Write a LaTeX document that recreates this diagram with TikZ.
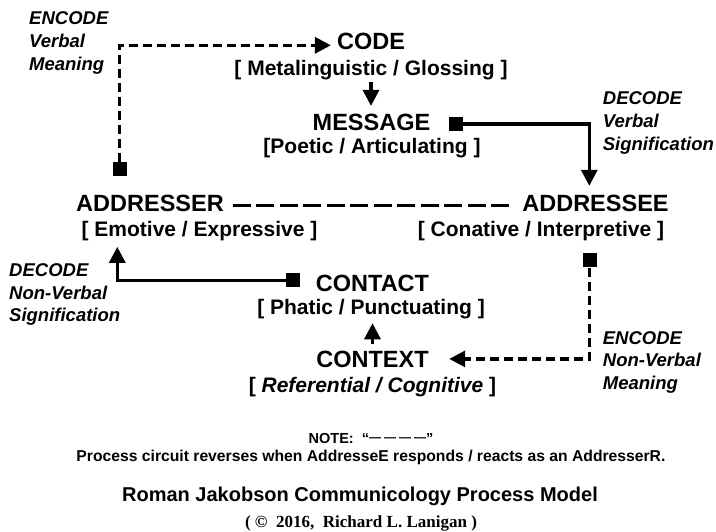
\documentclass[tikz,border=0pt]{standalone}
\usepackage{fontspec}
\setmainfont{Liberation Sans}
\newfontfamily\timesfont{Liberation Serif}
\usetikzlibrary{arrows.meta,calc}
\begin{document}
\begin{tikzpicture}[x=1pt,y=-1pt,
  mainlbl/.style={font=\fontsize{23.5}{28}\selectfont\bfseries, inner sep=0pt, anchor=base},
  sublbl/.style={font=\fontsize{21}{25}\selectfont\bfseries, inner sep=0pt, anchor=base},
  sidelbl/.style={font=\fontsize{18.5}{22.6}\selectfont\bfseries\itshape, inner sep=0pt, anchor=north west, align=left},
  sqbox/.style={fill=black, minimum size=14pt, inner sep=0pt},
  solidconn/.style={line width=3.2pt},
  dashconn/.style={line width=3.2pt, dash pattern=on 9pt off 5pt},
  tipped/.style={-{Triangle[length=16pt,width=16pt]}},
  notelbl/.style={inner sep=0pt, anchor=base}]
\useasboundingbox (0,0) rectangle (716,532);

% main nodes
\node[mainlbl] (code) at (371,50) {CODE};
\node[sublbl] (meta) at (371,75.5) {[ Metalinguistic / Glossing ]};
\node[mainlbl] (message) at (371.5,130.5) {MESSAGE};
\node[sublbl] (poetic) at (372,154) {[Poetic / Articulating ]};
\node[mainlbl] (addresser) at (150,212) {ADDRESSER};
\node[sublbl] (emotive) at (199.5,237) {[ Emotive / Expressive ]};
\node[mainlbl] (addressee) at (595.5,211.7) {ADDRESSEE};
\node[sublbl] (conative) at (541,237) {[ Conative / Interpretive ]};
\node[mainlbl] (contact) at (372.5,291) {CONTACT};
\node[sublbl] (phatic) at (371,315) {[ Phatic / Punctuating ]};
\node[mainlbl] (context) at (372.5,367) {CONTEXT};
\node[sublbl] (referential) at (372.5,392) {[ \textit{Referential / Cognitive} ]};

% side labels
\node[sidelbl] (encV) at (29,11.7) {ENCODE\\Verbal\\Meaning};
\node[sidelbl] (decV) at (602.7,91.7) {DECODE\\Verbal\\Signification};
\node[sidelbl] (decN) at (9,263.3) {DECODE\\Non-Verbal\\Signification};
\node[sidelbl] (encN) at (602.7,331) {ENCODE\\Non-Verbal\\Meaning};

% squares
\node[sqbox] (sqA) at (119.5,169) {};
\node[sqbox] (sqB) at (456,124) {};
\node[sqbox] (sqC) at (589.5,260.5) {};
\node[sqbox] (sqD) at (293,280.5) {};

% connectors
\draw[dashconn,tipped,shorten >=6pt] (sqA.north) |- ([yshift=-3.4pt]code.west);
\draw[solidconn,tipped] ([yshift=-2pt]meta.south) -- ([yshift=8pt]meta.south |- message.north);
\draw[solidconn,tipped] (sqB.east) -| ([xshift=-6.2pt,yshift=9.3pt]addressee.north);
\draw[line width=3pt,dash pattern=on 18pt off 5.5pt,shorten <=9pt,shorten >=12.4pt]
  ([yshift=-1.8pt]addresser.east) -- ([yshift=-1.8pt]addresser.east -| addressee.west);
\draw[dashconn,tipped,shorten >=20.4pt] (sqC.south) |- ([yshift=0pt]context.east);
\draw[solidconn,tipped,shorten <=6pt,shorten >=3.6pt] (context.north) -- (context.north |- phatic.south);
\draw[solidconn,tipped] (sqD.west) -| ([xshift=-82.2pt,yshift=-5.3pt]emotive.south);

% bottom texts
\node[notelbl,font=\fontsize{14.5}{17}\selectfont\bfseries] (note) at (371,443) {NOTE:\ \ “\raisebox{1.2pt}{\fontsize{12}{14}\selectfont —\hspace{3pt}—\hspace{3pt}—\hspace{3pt}—}”};
\node[notelbl,font=\fontsize{15.7}{19}\selectfont\bfseries] (process) at (371,461) {Process circuit reverses when AddresseE responds / reacts as an AddresserR.};
\node[notelbl,font=\fontsize{20}{24}\selectfont\bfseries] (title) at (360,501) {Roman Jakobson Communicology Process Model};
\node[notelbl,font=\fontsize{17}{20}\timesfont\bfseries] (copyr) at (361,527) {(\ ©\ \ 2016,\ \ Richard L. Lanigan )};
\end{tikzpicture}
\end{document}
